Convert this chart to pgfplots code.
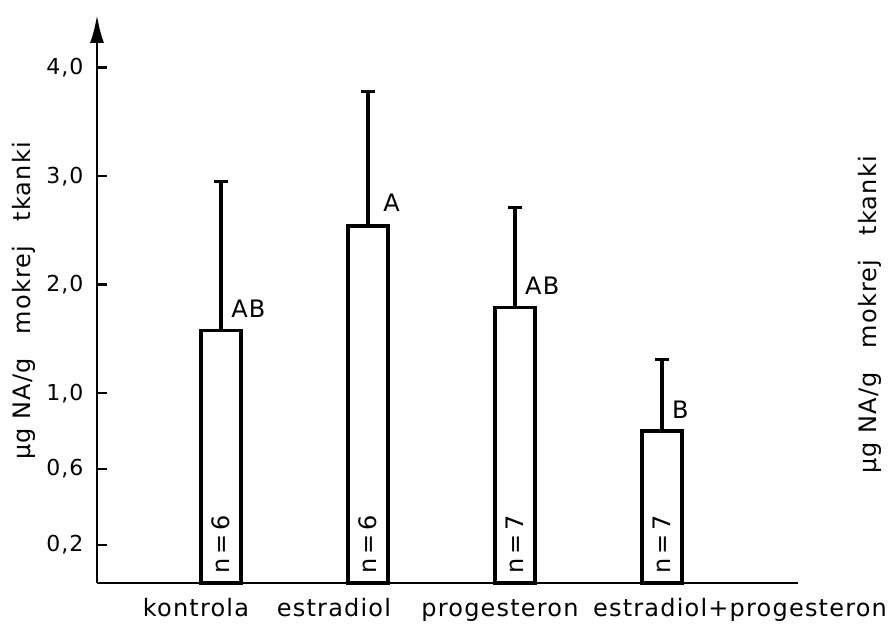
\documentclass[border=0pt]{standalone}
\usepackage{fontspec}
\setmainfont{DejaVu Sans}[LetterSpace=5]
\usepackage{pgfplots}
\pgfplotsset{compat=1.18}
\usetikzlibrary{arrows.meta}
\begin{document}
\begin{tikzpicture}[font=\fontsize{24}{26}\selectfont]
\begin{axis}[
  scale only axis,
  width=701pt, height=568pt,
  xmin=-0.844, xmax=3.925,
  ymin=0, ymax=4.485,
  y coord trafo/.code={\pgfmathparse{#1<=1 ? 1.75*#1 : 0.75+#1}},
  y coord inv trafo/.code={\pgfmathparse{#1<=1.75 ? #1/1.75 : #1-0.75}},
  axis x line=bottom,
  axis y line=left,
  x axis line style={-, line width=2.6pt},
  y axis line style={-{Latex[length=28pt,width=14pt]}, line width=2.6pt},
  xtick=\empty,
  ytick={0.2,0.6,1,2,3,4},
  yticklabels={{0,2},{0,6},{1,0},{2,0},{3,0},{4,0}},
  /pgf/number format/assume math mode=true,
  tick align=inside,
  major tick length=10pt,
  tick style={line width=2.4pt, black},
  yticklabel style={xshift=-10pt, font=\fontsize{22}{24}\selectfont},
  clip=false,
]
% error bars (mean to mean+SD)
\addplot[black, line width=3.2pt, mark=-, mark size=7pt, mark indices={2}, mark options={line width=2.8pt}] coordinates {(0,1.58) (0,2.95)};
\addplot[black, line width=3.2pt, mark=-, mark size=7pt, mark indices={2}, mark options={line width=2.8pt}] coordinates {(1,2.54) (1,3.78)};
\addplot[black, line width=3.2pt, mark=-, mark size=7pt, mark indices={2}, mark options={line width=2.8pt}] coordinates {(2,1.79) (2,2.71)};
\addplot[black, line width=3.2pt, mark=-, mark size=7pt, mark indices={2}, mark options={line width=2.8pt}] coordinates {(3,0.80) (3,1.31)};
% bars
\addplot[ybar, bar width=40pt, draw=black, fill=white, line width=3.2pt] coordinates {(0,1.58) (1,2.54) (2,1.79) (3,0.80)};
% group letters
\node[anchor=south west, inner sep=0pt] at ([shift={(10pt,12pt)}]axis cs:0,1.58) {AB};
\node[anchor=south west, inner sep=0pt] at ([shift={(15pt,14pt)}]axis cs:1,2.54) {A};
\node[anchor=south west, inner sep=0pt] at ([shift={(10pt,13pt)}]axis cs:2,1.79) {AB};
\node[anchor=south west, inner sep=0pt] at ([shift={(10pt,12pt)}]axis cs:3,0.80) {B};
% n labels
\node[rotate=90, anchor=west, inner sep=0pt] at ([yshift=9pt]axis cs:0,0) {n\,=\,6};
\node[rotate=90, anchor=west, inner sep=0pt] at ([yshift=9pt]axis cs:1,0) {n\,=\,6};
\node[rotate=90, anchor=west, inner sep=0pt] at ([yshift=9pt]axis cs:2,0) {n\,=\,7};
\node[rotate=90, anchor=west, inner sep=0pt] at ([yshift=9pt]axis cs:3,0) {n\,=\,7};
\coordinate (O) at (rel axis cs:0,0);
\end{axis}
% category labels
\node[anchor=base] at ([shift={(99pt,-34pt)}]O) {kontrola};
\node[anchor=base] at ([shift={(237pt,-34pt)}]O) {estradiol};
\node[anchor=base] at ([shift={(403pt,-34pt)}]O) {progesteron};
\node[anchor=base, inner sep=0pt] at ([shift={(643pt,-34pt)}]O) {estradiol+progesteron};
% axis titles (left and right)
\node[rotate=90, inner sep=0pt] at ([shift={(-73pt,282pt)}]O) {µg NA/g\quad mokrej\quad tkanki};
\node[rotate=90, inner sep=0pt] at ([shift={(773pt,268pt)}]O) {µg NA/g\quad mokrej\quad tkanki};
\pgfresetboundingbox
\path ([shift={(-97pt,-43pt)}]O) rectangle ([shift={(792pt,583pt)}]O);
\end{tikzpicture}
\end{document}
